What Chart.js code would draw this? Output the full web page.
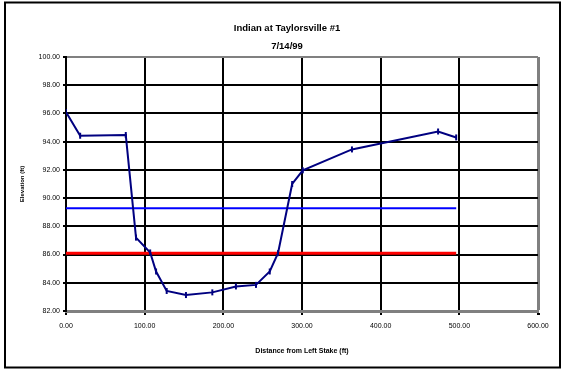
<!DOCTYPE html>
<html>
<head>
<meta charset="utf-8">
<script src="https://cdn.jsdelivr.net/npm/chart.js@4.4.1/dist/chart.umd.min.js"></script>
<style>
  html, body { margin: 0; padding: 0; background: #fff; }
  canvas { display: block; }
</style>
</head>
<body>
<canvas id="chartCanvas" width="564" height="369"></canvas>
<script>
// Cross-section survey
const distance = [0, 18, 76, 89, 107, 114.5, 128, 152.5, 186, 216, 241.5, 259, 269.5, 287.5, 301, 363.5, 473, 496];
const elevation = [96.1, 94.42, 94.47, 87.2, 86.15, 84.8, 83.42, 83.13, 83.32, 83.74, 83.85, 84.8, 86.1, 91.0, 91.97, 93.45, 94.72, 94.3];

// Horizontal reference lines (start / end distance)
const lineSpan = [0, 496];
const blueLevel = 89.28;
const redLevel = 86.1;

const xTicks = [0, 100, 200, 300, 400, 500, 600];
const yTicks = [82, 84, 86, 88, 90, 92, 94, 96, 98, 100];

const FONT = "'Liberation Sans', Arial, sans-serif";

const profile = distance.map((d, i) => ({ x: d, y: elevation[i] }));
const blueLine = lineSpan.map(d => ({ x: d, y: blueLevel }));
const redLine = lineSpan.map(d => ({ x: d, y: redLevel }));

// Outer frame around the whole chart
const framePlugin = {
  id: 'frame',
  beforeDraw(chart) {
    const ctx = chart.ctx;
    ctx.save();
    ctx.fillStyle = '#ffffff';
    ctx.fillRect(0, 0, chart.width, chart.height);
    ctx.restore();
  },
  afterDraw(chart) {
    const ctx = chart.ctx;
    ctx.save();
    ctx.strokeStyle = '#000000';
    ctx.lineWidth = 2;
    ctx.strokeRect(5, 2.5, 555, 365);
    ctx.restore();
  }
};

const ctx = document.getElementById('chartCanvas').getContext('2d');

new Chart(ctx, {
  type: 'scatter',
  data: {
    datasets: [
      {
        label: 'Ground',
        data: profile,
        showLine: true,
        borderColor: '#000080',
        borderWidth: 2,
        pointStyle: 'line',
        rotation: 90,
        pointRadius: 3,
        pointBorderWidth: 2,
        pointBorderColor: '#000080',
        pointBackgroundColor: '#000080',
        tension: 0,
        order: 0
      },
      {
        label: 'Blue',
        data: blueLine,
        showLine: true,
        borderColor: '#0000ff',
        borderWidth: 2,
        pointRadius: 0,
        order: 1
      },
      {
        label: 'Red',
        data: redLine,
        showLine: true,
        borderColor: '#ff0000',
        borderWidth: 3,
        pointRadius: 0,
        order: 1
      }
    ]
  },
  options: {
    responsive: false,
    animation: false,
    devicePixelRatio: 1,
    layout: {
      padding: { left: 10, right: 0, top: 0, bottom: 0 }
    },
    plugins: {
      legend: { display: false },
      tooltip: { enabled: false },
      title: {
        display: true,
        text: 'Indian at Taylorsville #1',
        color: '#000',
        font: { family: FONT, size: 9.5, weight: 'bold' },
        padding: { top: 22.6, bottom: 6.3 }
      },
      subtitle: {
        display: true,
        text: '7/14/99',
        color: '#000',
        font: { family: FONT, size: 9.5, weight: 'bold' },
        padding: { top: 0, bottom: 5.3 }
      }
    },
    scales: {
      x: {
        type: 'linear',
        min: 0,
        max: 600,
        afterBuildTicks: s => { s.ticks = xTicks.map(v => ({ value: v })); },
        afterFit: s => { s.height = 58; },
        ticks: {
          color: '#000',
          font: { family: FONT, size: 7 },
          padding: 7,
          maxRotation: 0,
          callback: v => v.toFixed(2)
        },
        grid: {
          color: c => (c.tick && c.tick.value === 600 ? '#808080' : '#000000'),
          lineWidth: c => (c.tick && c.tick.value === 600 ? 3 : 2),
          tickColor: '#000000',
          tickLength: 4
        },
        border: { display: true, color: '#808080', width: 3 },
        title: {
          display: true,
          text: 'Distance from Left Stake (ft)',
          color: '#000',
          font: { family: FONT, size: 7, weight: 'bold' },
          padding: { top: 0, bottom: 14.1 }
        }
      },
      y: {
        type: 'linear',
        position: 'left',
        min: 82,
        max: 100,
        afterBuildTicks: s => { s.ticks = yTicks.map(v => ({ value: v })); },
        afterFit: s => { s.width = 56; },
        ticks: {
          color: '#000',
          font: { family: FONT, size: 7 },
          padding: 3,
          callback: v => v.toFixed(2)
        },
        grid: {
          color: c => (c.tick && c.tick.value === 100 ? '#808080' : '#000000'),
          lineWidth: 2,
          tickColor: '#000000',
          tickLength: 3
        },
        border: { display: true, color: '#000000', width: 2 },
        title: {
          display: true,
          text: 'Elevation (ft)',
          color: '#000',
          font: { family: FONT, size: 6, weight: 'bold' },
          padding: { top: 9.1, bottom: 0 }
        }
      },
      yRight: {
        type: 'linear',
        position: 'right',
        display: true,
        afterFit: s => { s.width = 26; },
        ticks: { display: false },
        grid: { display: false, drawTicks: false },
        border: { display: false }
      }
    }
  },
  plugins: [framePlugin]
});
</script>
</body>
</html>
